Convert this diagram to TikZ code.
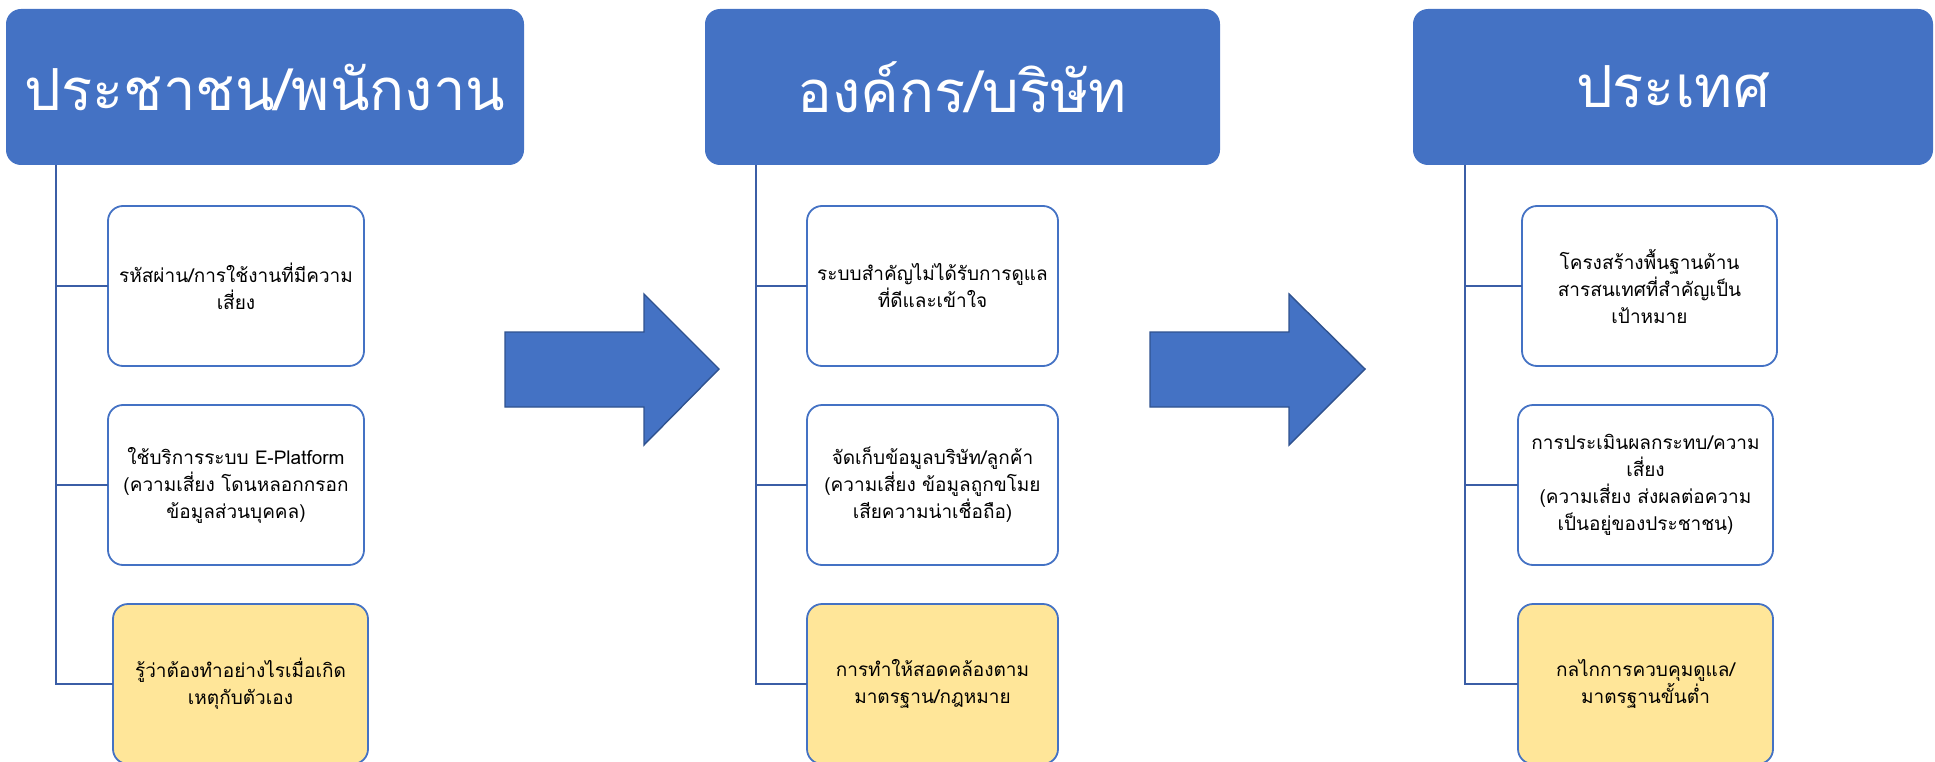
\documentclass[tikz,border=0pt]{standalone}
\usepackage{fontspec}
\setmainfont[Script=Thai]{Loma}
\usetikzlibrary{positioning}
\definecolor{headblue}{RGB}{68,114,196}
\definecolor{edgeblue}{RGB}{47,82,143}
\definecolor{trunkblue}{RGB}{59,94,166}
\definecolor{notegold}{RGB}{255,230,153}

\begin{document}
\begin{tikzpicture}[x=1pt, y=-1pt,
      head/.style={fill=headblue, rounded corners=15pt, text=white,
                   font=\fontsize{58}{66}\selectfont, minimum height=156pt,
                   inner sep=0pt, outer sep=0pt},
      item/.style={draw=headblue, line width=1.8pt, fill=white, rounded corners=15pt,
                   align=center, font=\fontsize{19}{27}\selectfont,
                   minimum height=160pt, inner sep=0pt, outer sep=0pt},
      note/.style={item, fill=notegold},
      trunk/.style={draw=trunkblue, line width=2.4pt},
      bigarrow/.style={fill=headblue, draw=edgeblue, line width=1.4pt, line join=miter}]
    \clip (0,0) rectangle (1935,762);

    % headers
    \node[head, minimum width=518pt] (hPeople) at (265,87)    {ประชาชน/พนักงาน};
    \node[head, minimum width=515pt] (hOrg)    at (962.5,87)  {องค์กร/บริษัท};
    \node[head, minimum width=520pt] (hNation) at (1673,87)   {ประเทศ};

    % people column
    \node[item, minimum width=256pt] (people1) at (236,286)   {รหัสผ่าน/การใช้งานที่มีความ\\เสี่ยง};
    \node[item, minimum width=256pt] (people2) at (236,485)   {ใช้บริการระบบ E-Platform\\(ความเสี่ยง โดนหลอกกรอก\\ข้อมูลส่วนบุคคล)};
    \node[note, minimum width=255pt] (people3) at (240.5,684) {รู้ว่าต้องทำอย่างไรเมื่อเกิด\\เหตุกับตัวเอง};

    % organisation column
    \node[item, minimum width=251pt] (org1) at (932.5,286) {ระบบสำคัญไม่ได้รับการดูแล\\ที่ดีและเข้าใจ};
    \node[item, minimum width=251pt] (org2) at (932.5,485) {จัดเก็บข้อมูลบริษัท/ลูกค้า\\(ความเสี่ยง ข้อมูลถูกขโมย\\เสียความน่าเชื่อถือ)};
    \node[note, minimum width=251pt] (org3) at (932.5,684) {การทำให้สอดคล้องตาม\\มาตรฐาน/กฎหมาย};

    % nation column
    \node[item, minimum width=255pt] (nation1) at (1649.5,286) {โครงสร้างพื้นฐานด้าน\\สารสนเทศที่สำคัญเป็น\\เป้าหมาย};
    \node[item, minimum width=255pt] (nation2) at (1645.5,485) {การประเมินผลกระทบ/ความ\\เสี่ยง\\(ความเสี่ยง ส่งผลต่อความ\\เป็นอยู่ของประชาชน)};
    \node[note, minimum width=255pt] (nation3) at (1645.5,684) {กลไกการควบคุมดูแล/\\มาตรฐานขั้นต่ำ};

    % trunks
    \coordinate (peopleTrunk) at ([xshift=50pt]hPeople.south west);
    \coordinate (orgTrunk)    at ([xshift=51pt]hOrg.south west);
    \coordinate (nationTrunk) at ([xshift=52pt]hNation.south west);

    \draw[trunk] (peopleTrunk) |- (people3.west);
    \draw[trunk] (peopleTrunk |- people1.west) -- (people1.west);
    \draw[trunk] (peopleTrunk |- people2.west) -- (people2.west);

    \draw[trunk] (orgTrunk) |- (org3.west);
    \draw[trunk] (orgTrunk |- org1.west) -- (org1.west);
    \draw[trunk] (orgTrunk |- org2.west) -- (org2.west);

    \draw[trunk] (nationTrunk) |- (nation3.west);
    \draw[trunk] (nationTrunk |- nation1.west) -- (nation1.west);
    \draw[trunk] (nationTrunk |- nation2.west) -- (nation2.west);

    % block arrows
    \draw[bigarrow] (505,332) -- (644,332) -- (644,294) -- (719,369) -- (644,445) -- (644,407) -- (505,407) -- cycle;
    \draw[bigarrow] (1150,332) -- (1289,332) -- (1289,294) -- (1365,369) -- (1289,445) -- (1289,407) -- (1150,407) -- cycle;
  \end{tikzpicture}
\end{document}
